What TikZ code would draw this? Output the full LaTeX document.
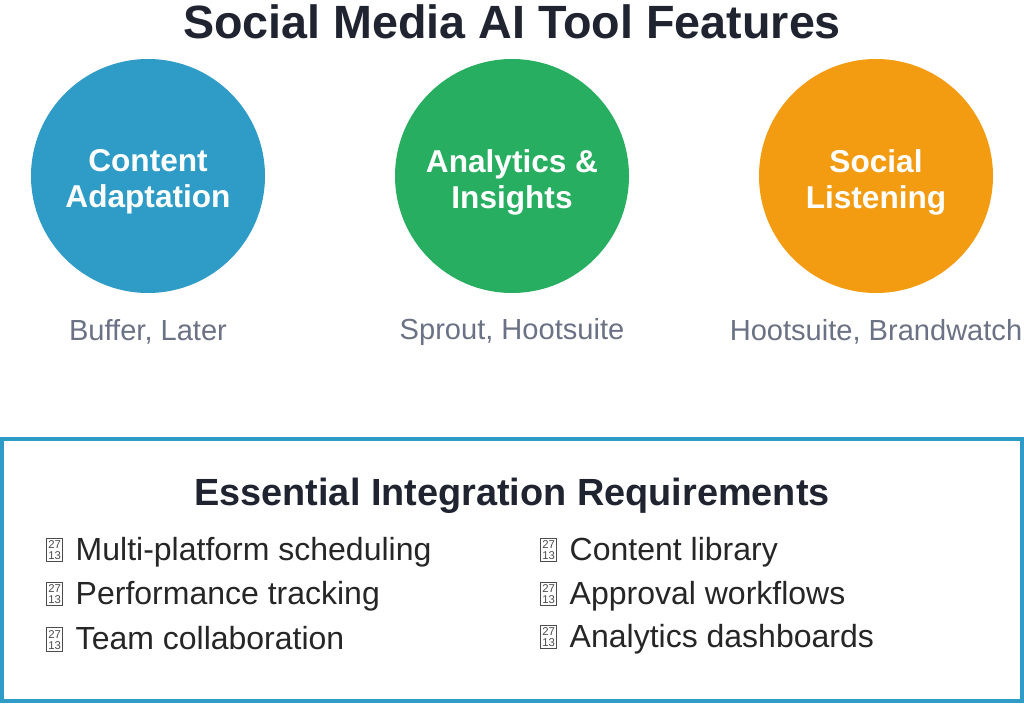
\documentclass[tikz,border=0pt]{standalone}
\usepackage{fontspec}
\setmainfont{Liberation Sans}
\begin{document}
\begin{tikzpicture}[x=0.75pt,y=-0.75pt,
  circ/.style={circle,minimum size=234*0.75pt,inner sep=0pt},
  ctext/.style={text=white,font=\fontsize{23.7}{27}\selectfont\bfseries,align=center},
  sub/.style={text=sg,font=\fontsize{21.8}{24}\selectfont},
  item/.style={anchor=west,text=black!85,font=\fontsize{24}{28}\selectfont,inner sep=0pt}]
\definecolor{cb}{HTML}{2E9CC6}
\definecolor{cg}{HTML}{27AE60}
\definecolor{co}{HTML}{F39C12}
\definecolor{tx}{HTML}{1F2430}
\definecolor{sg}{HTML}{6B7285}
\newcommand{\tofu}{\tikz[x=1pt,y=1pt,baseline=0pt]{\draw[line width=0.5pt,black!70] (0,-1) rectangle (12,16.5);
 \node[anchor=center,inner sep=0pt,font=\fontsize{8.5}{8}\selectfont,text=black!70] at (6,11.5) {27};
 \node[anchor=center,inner sep=0pt,font=\fontsize{8.5}{8}\selectfont,text=black!70] at (6,3.5) {13};}\hspace{0.4em}}
\useasboundingbox (0,0) rectangle (1024,703);
\fill[white] (0,0) rectangle (1024,703);
\node[font=\fontsize{35}{40}\selectfont\bfseries,text=tx] (title) at (512,22) {Social Media AI Tool Features};
\node[circ,fill=cb] (c1) at (148,176) {};
\node[circ,fill=cg] (c2) at (512,176) {};
\node[circ,fill=co] (c3) at (876,176) {};
\node[ctext] (t1) at (148,182) {Content\\Adaptation};
\node[ctext] (t2) at (512,182) {Analytics \&\\Insights};
\node[ctext] (t3) at (876,182) {Social\\Listening};
\node[sub] (s1) at (148,332) {Buffer, Later};
\node[sub] (s2) at (512,332) {Sprout, Hootsuite};
\node[sub] (s3) at (876,332) {Hootsuite, Brandwatch};
\draw[cb,line width=3pt,fill=white] (2,439) rectangle (1022,701);
\node[font=\fontsize{28.4}{32}\selectfont\bfseries,text=tx] (h) at (512,496) {Essential Integration Requirements};
\node[item] (i1) at (46,552) {\tofu Multi-platform scheduling};
\node[item] (i2) at (46,596) {\tofu Performance tracking};
\node[item] (i3) at (46,639) {\tofu Team collaboration};
\node[item] (i4) at (540,552) {\tofu Content library};
\node[item] (i5) at (540,596) {\tofu Approval workflows};
\node[item] (i6) at (540,639) {\tofu Analytics dashboards};
\end{tikzpicture}
\end{document}
